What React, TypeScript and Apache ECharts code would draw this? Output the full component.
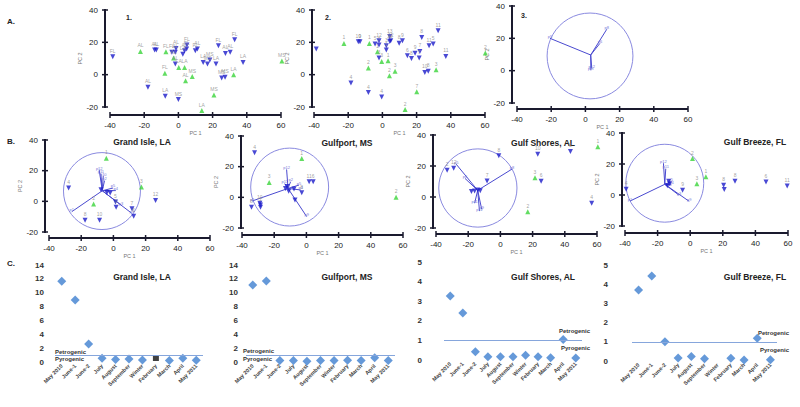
import React, { useEffect, useRef } from "react";
import * as echarts from "echarts";

// ---------- Row A : PCA scores (PC1, PC2, label) ----------
const a1Blue: [number, number, string][] = [
  [-38.4, 11.1, "FL"], [-13.9, 15.2, "AL"], [-12.9, 15.2, "AL"], [-3.8, 13.8, "FL"],
  [-1.8, 13.8, "AL"], [-1.4, 16.2, "AL"], [2.6, 12.7, "LA"], [3.6, 14.8, "AL"],
  [4.8, 15.8, "FL"], [5.0, 18.3, "FL"], [-1.8, 6.6, "AL"], [9.9, 14.8, "FL"],
  [11.1, 15.8, "AL"], [14.5, 7.6, "LA"], [17.0, 6.6, "MS"], [18.4, 9.0, "MS"],
  [22.0, 6.6, "LA"], [23.4, 17.9, "FL"], [27.5, 13.1, "AL"], [30.3, 13.8, "AL"],
  [32.9, 21.6, "FL"], [37.8, 7.6, "LA"], [25.3, -2.1, "MS"], [27.3, -1.6, "MS"],
  [-17.8, -7.8, "AL"], [-7.7, -13.3, "LA"], [0, -15.4, "MS"],
];
const a1Green: [number, number, string][] = [
  [-22.2, 14.4, "AL"], [-7.3, 14.2, "FL"], [-7.9, 0.8, "FL"], [-2.8, 10.3, "AL"],
  [0.2, 4.5, "LA"], [3.6, 4.5, "LA"], [4.2, -3.7, "AL"], [8.1, -1.2, "MS"],
  [20.8, -12.5, "MS"], [13.7, -22.2, "LA"], [32.3, 0, "LA"], [60.5, 8.5, "MS"],
];
const a2Blue: [number, number, string][] = [
  [-38.7, 15.8, ""], [-14.1, 20.3, "10"], [-13.1, 20.3, "9"], [-4.3, 18.9, "5"],
  [-2, 21, "12"], [-2, 18.3, "7"], [-2, 10.3, "3"], [2.3, 15.2, "1"], [2.3, 17.9, "3"],
  [4.3, 20.5, "10"], [4.3, 23.6, "13"], [4.9, 21, "12"], [9.8, 19.5, "8"], [11.7, 21, "9"],
  [14.6, 11.7, "6"], [17, 10, "8"], [19.1, 13.3, "9"], [21.5, 10.3, "7"], [21.9, 14.4, "7"],
  [23, 23, "8"], [27.3, 17.9, "11"], [29.7, 18.9, "5"], [32.6, 27.1, "11"], [37.1, 11.3, "11"],
  [24.8, 1.4, "10"], [26.8, 2.1, "8"], [-18.4, -5.1, "4"], [-8.2, -11.1, "4"], [-0.4, -13.8, "4"],
];
const a2Green: [number, number, string][] = [
  [-22.5, 19.3, "1"], [-7.6, 19.3, "1"], [-8.2, 4.1, "2"], [-2.9, 14.2, "1"],
  [-0.4, 8.2, "3"], [3.3, 8.6, "1"], [7.4, 2.1, "3"], [4.1, -0.6, "2"],
  [20.1, -10.5, "7"], [13.3, -21.6, "2"], [31.4, 3.1, "3"], [60.2, 13.4, "2"],
];
// loading circle [cx, cy, r] and vectors [x0, y0, x1, y1, label]
const a3Circle: [number, number, number][] = [[2.7, 9.1, 25.1]];
const a3Vectors: [number, number, number, number, string][] = [
  [3.1, 9.7, -20.7, 20, "p5"], [3.1, 9.7, 12.5, 25.6, "p8"], [3.1, 9.7, 8.5, 16.9, "p6"],
  [3.1, 9.7, 3.7, 1.5, "p12"], [3.1, 9.7, 3.2, 0.2, "pm"],
];

// ---------- Row B : site PCA biplots ----------
const b1Blue: [number, number, string][] = [
  [-27.8, 8.7, "4"], [-17.6, -12.3, "8"], [-8.6, -12.3, "10"], [1.3, -0.4, "5"], [1.7, -3.9, "9"],
  [11.5, -4.8, "7"], [12.6, -9.7, "6"], [26.2, 0.6, "12"], [-7.7, 7.6, ""], [-4, 5.8, ""], [-2, 5.5, ""],
];
const b1Green: [number, number, string][] = [[-4.4, 28.1, "1"], [17.4, 9.3, "3"], [-12.3, -1.7, "2"]];
const b1Circle: [number, number, number][] = [[-7.1, 6.7, 23.9]];
const b1Vectors: [number, number, number, number, string][] = [
  [-6.9, 6.9, -25.9, -6.8, "p1"], [-6.9, 6.9, 11.4, -7.8, "p9"], [-6.9, 6.9, -8.8, 20.4, "p12"],
  [-6.9, 6.9, -7.8, 18.2, "p11"], [-6.9, 6.9, -6.3, 16.5, "p10"], [-6.9, 6.9, -5.5, 13.5, "p2"],
  [-6.9, 6.9, -0.2, 8.7, "p5"], [-6.9, 6.9, 1.5, 7.0, "p4"], [-6.9, 6.9, 4.7, -2.4, "p3"],
];
const b2Blue: [number, number, string][] = [
  [-32.2, 29, "4"], [-34.1, -6.5, "8"], [-28.9, -3.9, "10"], [-28.5, -5, "1"], [-28.5, -6.5, ""],
  [-7.7, 5.4, ""], [-7.1, -1.7, ""], [-2.9, 3, "8"], [1.7, 10.2, "11"], [4.2, 10.2, "6"],
  [-13, 5.8, ""], [-11, 4, ""], [-12, 7, ""],
];
const b2Green: [number, number, string][] = [[-2.9, 25.3, "1"], [-23.1, 9.7, "3"], [55.7, 0, "2"]];
const b2Circle: [number, number, number][] = [[-10.4, 6.7, 24.2]];
const b2Vectors: [number, number, number, number, string][] = [
  [-11.4, 5.8, -33.7, -2.4, "p1"], [-11.4, 5.8, 0.2, -12.6, "p9"], [-11.4, 5.8, -12.3, 18.2, "p12"],
  [-11.4, 5.8, -4.6, 8, "p5"], [-11.4, 5.8, -3.5, 4.8, "p4"], [-11.4, 5.8, -9.8, 10.2, "p2"],
  [-11.4, 5.8, -13.5, 9, "p11"],
];
const b3Blue: [number, number, string][] = [
  [-33.1, 17.3, "2"], [-29, 18.6, "12"], [-1, 26.6, "8"], [-8.3, 10.4, "7"], [23.2, 27.6, "10"],
  [25.3, 10.2, "6"], [43.5, 29.4, "5"], [56.7, -4.1, "4"], [-16, 3.9, ""], [-18, 3.5, ""],
  [-14, 4.5, ""], [-12.5, 4, ""],
];
const b3Green: [number, number, string][] = [[21.5, 12.5, "3"], [17, -9.5, "2"], [60.5, 32.4, "1"]];
const b3Circle: [number, number, number][] = [[-14, 5.8, 24.3]];
const b3Vectors: [number, number, number, number, string][] = [
  [-14.1, 4.3, 7.2, 18, "p8"], [-14.1, 4.3, -27.5, 21.2, "p5"], [-14.1, 4.3, -13, -9.1, "p12"],
  [-14.1, 4.3, -11.6, -8, "p9"], [-14.1, 4.3, -16, -4, "p11"], [-14.1, 4.3, -22, 12, "p6"],
];
const b4Blue: [number, number, string][] = [
  [-39.3, 3.7, "4"], [-4.7, 3, "9"], [20.5, 6.3, "8"], [20.9, 3.5, ""], [27.5, 8.9, "8"],
  [46.5, 8.4, "6"], [59.5, 5.8, "11"], [-13.2, 8.9, ""], [-12.6, 7.3, ""], [-14, 6, ""],
];
const b4Green: [number, number, string][] = [[1.4, 23.5, "2"], [4.1, 7.3, "3"], [9.6, 11.7, "1"]];
const b4Circle: [number, number, number][] = [[-15.6, 7.6, 23.9]];
const b4Vectors: [number, number, number, number, string][] = [
  [-15.6, 6.9, -36.9, -3.9, "p1"], [-15.6, 6.9, -0.6, -4.1, "p9"], [-15.6, 6.9, -16.4, 20.5, "p12"],
  [-15.6, 6.9, -11.9, 8.4, "p5"], [-15.6, 6.9, -11.5, 6.5, "p4"], [-15.6, 6.9, -6.8, -0.2, "p3"],
  [-15.6, 6.9, -15, 17, "p11"],
];

// PCA axis ticks (shared by all score/biplot panels)
const pc1Ticks = [-40, -20, 0, 20, 40, 60];
const pc2Ticks = [-20, 0, 20, 40];

// ---------- Row C : diagnostic ratio by sampling date ----------
const months = ["May 2010", "June-1", "June-2", "July", "August", "September", "Winter", "February", "March", "April", "May 2011"];
const grandIsleRatio = [11.65, 8.95, 2.6, 0.55, 0.35, 0.43, 0.3, 0.58, 0.2, 0.53, 0.25];
const gulfportRatio = [11.1, 11.7, 0.22, 0.2, 0.12, 0.2, 0.2, 0.25, 0.2, 0.6, 0.2];
const gulfShoresRatio = [3.27, 2.4, 0.42, 0.17, 0.17, 0.17, 0.24, 0.17, 0.12, 1.05, 0.1];
const gulfBreezeRatio = [3.7, 4.43, 1.0, 0.15, 0.23, 0.12, null, 0.14, 0.05, 1.18, 0.07];
const thresholdRatio = 1;
const cTitles = ["Grand Isle, LA", "Gulfport, MS", "Gulf Shores, AL", "Gulf Breeze, FL"];
const cYMax = [14, 14, 5, 5];
const cYInterval = [2, 2, 1, 1];
const grandIsleFlagIndex = 7;

// ---------- layout ----------
type PanelLayout = { left: number; top: number; width: number; height: number; yOff: number; xOff: number };
const pcaLayouts: PanelLayout[] = [
  { left: 110, top: 10, width: 171, height: 97, yOff: 5, xOff: 8 },
  { left: 314, top: 10, width: 171, height: 97, yOff: 2, xOff: 8 },
  { left: 517, top: 6, width: 171, height: 97, yOff: 5, xOff: 6 },
  { left: 49, top: 140, width: 161, height: 92, yOff: 4, xOff: 6 },
  { left: 242, top: 136, width: 161, height: 92, yOff: 1, xOff: 7 },
  { left: 436, top: 135, width: 161, height: 93, yOff: 3, xOff: 6 },
  { left: 625, top: 133, width: 163, height: 93, yOff: 3, xOff: 7 },
];
const ratioLayouts = [
  { left: 55, top: 265, width: 148, height: 97, margin: 11, labelSide: "Start", up: [0, 0], down: [0, 1] },
  { left: 246, top: 265, width: 149, height: 97, margin: 8, labelSide: "Start", up: [-3, 1], down: [-3, 1] },
  { left: 444, top: 262, width: 138, height: 98, margin: 22, labelSide: "End", up: [-8, 6], down: [-8, 5] },
  { left: 632, top: 265, width: 145, height: 96, margin: 24, labelSide: "End", up: [-12, 6], down: [-12, 5] },
];

const BLUE = "#1b1bc9";
const GREEN = "#3bd43b";
const FRAME = "#1a1a2e";
const FONT = "'Liberation Sans', Arial, sans-serif";

export default function App() {
  const ref = useRef<HTMLDivElement>(null);

  useEffect(() => {
    if (!ref.current) return;
    const chart = echarts.init(ref.current, null, { renderer: "svg" });

    const pcaPanels = [
      { blue: a1Blue, green: a1Green, circle: [], vectors: [] },
      { blue: a2Blue, green: a2Green, circle: [], vectors: [] },
      { blue: [], green: [], circle: a3Circle, vectors: a3Vectors },
      { blue: b1Blue, green: b1Green, circle: b1Circle, vectors: b1Vectors },
      { blue: b2Blue, green: b2Green, circle: b2Circle, vectors: b2Vectors },
      { blue: b3Blue, green: b3Green, circle: b3Circle, vectors: b3Vectors },
      { blue: b4Blue, green: b4Green, circle: b4Circle, vectors: b4Vectors },
    ];
    const ratioSeries = [grandIsleRatio, gulfportRatio, gulfShoresRatio, gulfBreezeRatio];

    const grid: any[] = [];
    const xAxis: any[] = [];
    const yAxis: any[] = [];
    const series: any[] = [];
    const xMin = pc1Ticks[0], xMax = pc1Ticks[pc1Ticks.length - 1];
    const yMin = pc2Ticks[0], yMax = pc2Ticks[pc2Ticks.length - 1];

    pcaLayouts.forEach((g, i) => {
      grid.push({ left: g.left, top: g.top, width: g.width, height: g.height });
      xAxis.push({
        gridIndex: i, type: "value", min: xMin, max: xMax, interval: 20, position: "bottom",
        offset: g.xOff, splitLine: { show: false },
        axisLine: { show: false }, axisTick: { show: false },
        axisLabel: { show: true, fontSize: 8, color: "#222", margin: 6 },
        name: "PC 1", nameLocation: "middle", nameGap: 14,
        nameTextStyle: { fontSize: 5.5, color: "#777" },
      });
      yAxis.push({
        gridIndex: i, type: "value", min: yMin, max: yMax, interval: 20, position: "left",
        offset: g.yOff, splitLine: { show: false },
        axisLine: { show: false }, axisTick: { show: false },
        axisLabel: { show: true, fontSize: 8, color: "#222", margin: 7 },
        name: "PC 2", nameLocation: "middle", nameGap: 19,
        nameTextStyle: { fontSize: 5.5, color: "#777" },
      });

      // axis frame: thick axis lines with crossing ticks, placed through the axis scales
      series.push({
        type: "custom", xAxisIndex: i, yAxisIndex: i, data: [[5, 5]], silent: true, z: 6, clip: false,
        renderItem: (_params: any, api: any) => {
          const lo = api.coord([xMin, yMin]);
          const hi = api.coord([xMax, yMax]);
          const ay = lo[1] + g.xOff;
          const ax = lo[0] - g.yOff;
          const children: any[] = [
            { type: "line", shape: { x1: lo[0], y1: ay, x2: hi[0], y2: ay }, style: { stroke: FRAME, lineWidth: 2 } },
            { type: "line", shape: { x1: ax, y1: hi[1] - 1, x2: ax, y2: lo[1] + 1 }, style: { stroke: FRAME, lineWidth: 2 } },
          ];
          pc1Ticks.forEach((v) => {
            const c = api.coord([v, yMin]);
            children.push({ type: "line", shape: { x1: c[0], y1: ay - 3, x2: c[0], y2: ay + 3 }, style: { stroke: FRAME, lineWidth: 1.5 } });
          });
          pc2Ticks.forEach((v) => {
            const c = api.coord([xMin, v]);
            children.push({ type: "line", shape: { x1: ax - 3, y1: c[1], x2: ax + 3, y2: c[1] }, style: { stroke: FRAME, lineWidth: 1.5 } });
          });
          return { type: "group", children };
        },
      });

      const p = pcaPanels[i];
      if (p.circle.length) {
        series.push({
          type: "custom", xAxisIndex: i, yAxisIndex: i, data: p.circle, silent: true, z: 1, clip: false,
          renderItem: (_params: any, api: any) => {
            const c = api.coord([api.value(0), api.value(1)]);
            const s = api.size([api.value(2), 0]);
            return {
              type: "circle",
              shape: { cx: c[0], cy: c[1], r: s[0] },
              style: { fill: "none", stroke: "#8a8ae0", lineWidth: 1 },
            };
          },
        });
      }
      if (p.vectors.length) {
        const vec = p.vectors;
        series.push({
          type: "custom", xAxisIndex: i, yAxisIndex: i, data: vec.map((v) => v.slice(0, 4)), silent: true, z: 2, clip: false,
          renderItem: (params: any, api: any) => {
            const a = api.coord([api.value(0), api.value(1)]);
            const b = api.coord([api.value(2), api.value(3)]);
            const lab = vec[params.dataIndex][4];
            return {
              type: "group",
              children: [
                { type: "line", shape: { x1: a[0], y1: a[1], x2: b[0], y2: b[1] }, style: { stroke: "#4a4ad0", lineWidth: 1 } },
                {
                  type: "text", x: b[0], y: b[1],
                  style: { text: lab, fontSize: 4, fill: "#7777d8", align: "center", verticalAlign: "bottom" },
                },
              ],
            };
          },
        });
      }
      const lbl = {
        show: true, position: "top", distance: 1, fontSize: 5, color: "#8a8a8a",
        formatter: (q: any) => q.data[2],
      };
      if (p.blue.length) {
        series.push({
          type: "scatter", xAxisIndex: i, yAxisIndex: i, data: p.blue, clip: false, z: 3,
          symbol: "triangle", symbolRotate: 180, symbolSize: 5, itemStyle: { color: BLUE }, label: lbl,
        });
      }
      if (p.green.length) {
        series.push({
          type: "scatter", xAxisIndex: i, yAxisIndex: i, data: p.green, clip: false, z: 3,
          symbol: "triangle", symbolSize: 5, itemStyle: { color: GREEN }, label: lbl,
        });
      }
    });

    const axisBase = pcaLayouts.length;
    ratioLayouts.forEach((g, k) => {
      const gi = pcaLayouts.length + k;
      grid.push({ left: g.left, top: g.top, width: g.width, height: g.height });
      xAxis.push({
        gridIndex: gi, type: "category", data: months, boundaryGap: true,
        axisLine: { show: false }, axisTick: { show: false }, splitLine: { show: false },
        axisLabel: { interval: 0, rotate: 45, fontSize: 5.5, fontWeight: "bold", color: "#444", margin: 3 },
      });
      yAxis.push({
        gridIndex: gi, type: "value", min: 0, max: cYMax[k], interval: cYInterval[k],
        axisLine: { show: false }, axisTick: { show: false }, splitLine: { show: false },
        axisLabel: { fontSize: 8, fontWeight: "bold", color: "#333", margin: g.margin },
      });
      const vals = ratioSeries[k];
      const data = vals.map((v, idx) =>
        k === 0 && idx === grandIsleFlagIndex
          ? { value: v, symbol: "rect", symbolSize: 6, itemStyle: { color: "#111" } }
          : v
      );
      series.push({
        type: "scatter", xAxisIndex: axisBase + k, yAxisIndex: axisBase + k, data,
        symbol: "diamond", symbolSize: 9, itemStyle: { color: "#3f7fcf" },
        markLine: {
          silent: true, symbol: "none", animation: false,
          lineStyle: { color: "#86a6dc", width: 1, type: "solid" },
          label: { fontSize: 6, fontWeight: "bold", color: "#333" },
          data: [
            { yAxis: thresholdRatio, label: { formatter: "Petrogenic", position: "inside" + g.labelSide + "Top", distance: g.up } },
            { yAxis: thresholdRatio, label: { formatter: "Pyrogenic", position: "inside" + g.labelSide + "Bottom", distance: g.down } },
          ],
        },
      });
    });

    const txt = (text: string, x: number, y: number, size: number, align = "left") => ({
      type: "text", x, y, silent: true,
      style: {
        text, fill: "#222", font: `bold ${size}px ${FONT}`,
        align, textAlign: align, verticalAlign: "middle", textVerticalAlign: "middle",
      },
    });
    const graphic: any[] = [
      txt("A.", 7, 21, 8), txt("B.", 7, 141, 8), txt("C.", 7, 263, 8),
      txt("1.", 126, 17, 7), txt("2.", 325, 17, 7), txt("3.", 521, 15, 7),
      txt(cTitles[0], 142, 142, 8.5, "center"), txt(cTitles[1], 347, 143, 8.5, "center"),
      txt(cTitles[2], 543, 143, 8.5, "center"), txt(cTitles[3], 755, 142, 8.5, "center"),
      txt(cTitles[0], 142, 277, 8.5, "center"), txt(cTitles[1], 347, 277, 8.5, "center"),
      txt(cTitles[2], 543, 277, 8.5, "center"), txt(cTitles[3], 755, 277, 8.5, "center"),
    ];

    chart.setOption({
      animation: false,
      backgroundColor: "#ffffff",
      textStyle: { fontFamily: FONT },
      grid, xAxis, yAxis, series, graphic,
    });

    return () => chart.dispose();
  }, []);

  return (
    <div
      ref={ref}
      style={{ position: "fixed", left: 0, top: 0, width: 800, height: 407, background: "#fff" }}
    />
  );
}
